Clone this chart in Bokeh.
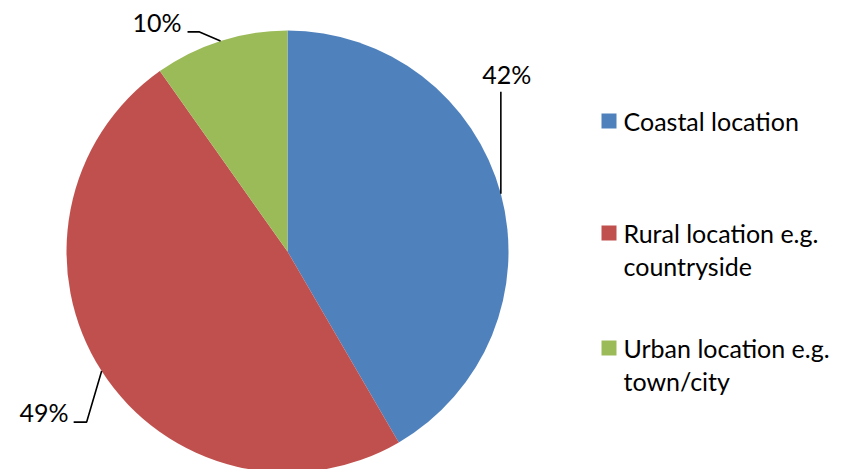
import math
from bokeh.plotting import figure
from bokeh.models import Range1d, ColumnDataSource
from bokeh.embed import file_html
from bokeh.resources import INLINE
from bokeh.core.properties import value

# ---- data ----
categories = ["Coastal location", "Rural location e.g. countryside", "Urban location e.g. town/city"]
legend_lines = [["Coastal location"], ["Rural location e.g.", "countryside"], ["Urban location e.g.", "town/city"]]
shares = [41.6, 48.6, 9.8]
colors = ["#4F81BD", "#C0504D", "#9BBB59"]

# ---- layout ----
W, H = 848, 469
FONT = "Lato"
FS = "25px"
BASE_FIX = -10  # renderer baseline correction (pixels)
CX, CY, R = 287, 251, 221  # pie centre / radius in screen pixels


def py(y):
    return H - y


p = figure(width=W, height=H, x_range=Range1d(0, W), y_range=Range1d(0, H),
           output_backend="svg", toolbar_location=None, min_border=0,
           x_axis_location=None, y_axis_location=None)
p.grid.visible = False
p.outline_line_color = None
p.background_fill_color = "white"
p.border_fill_color = "white"

total = sum(shares)
starts, ends, mids = [], [], []
cum = 0.0
for s in shares:
    a0 = cum / total
    cum += s
    a1 = cum / total
    starts.append(math.pi / 2 - 2 * math.pi * a0)
    ends.append(math.pi / 2 - 2 * math.pi * a1)
    mids.append(math.pi / 2 - 2 * math.pi * (a0 + a1) / 2)

src = ColumnDataSource(dict(start=starts, end=ends, color=colors, cat=categories))
p.wedge(x=CX, y=py(CY), radius=R, start_angle="start", end_angle="end",
        direction="clock", fill_color="color", line_color=None, source=src)

# ---- data labels with leader lines ----
leader_offsets = [
    [(0, 0), (0, -102)],
    [(0, 0), (-15, 51), (-28, 51)],
    [(0, 0), (-21, -9), (-33, -9)],
]
label_offsets = [(6, -110), (-33, 51), (-39, -9)]
label_align = ["center", "right", "right"]

for s, m, lo, lab, al in zip(shares, mids, leader_offsets, label_offsets, label_align):
    ex = CX + R * math.cos(m)
    ey = CY - R * math.sin(m)
    xs = [ex + dx for dx, dy in lo]
    ys = [py(ey + dy) for dx, dy in lo]
    p.line(xs, ys, line_color="black", line_width=1.6)
    p.text(x=[ex + lab[0]], y=[py(ey + lab[1] + BASE_FIX)], text=[f"{round(s)}%"],
           text_font=value(FONT), text_font_size=FS, text_color="black",
           text_align=al, text_baseline="alphabetic")

# ---- legend ----
LEG_X = 601
SQ = 15
TXT_X = 623
row_baselines = [130, 242, 357]
LINE_H = 33
for lines, col, base in zip(legend_lines, colors, row_baselines):
    p.rect(x=LEG_X + SQ / 2, y=py(base - 9.5), width=SQ, height=SQ,
           fill_color=col, line_color=None)
    for i, t in enumerate(lines):
        p.text(x=[TXT_X], y=[py(base + i * LINE_H + BASE_FIX)], text=[t],
               text_font=value(FONT), text_font_size=FS, text_color="black",
               text_align="left", text_baseline="alphabetic")

open("out.html", "w").write(file_html(p, INLINE))
